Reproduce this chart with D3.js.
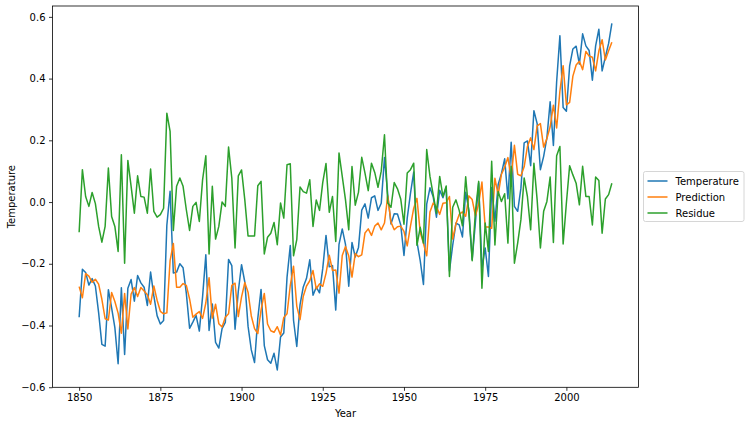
<!DOCTYPE html>
<html>
<head>
<meta charset="utf-8">
<script src="https://cdn.jsdelivr.net/npm/d3@7"></script>
<style>
  html, body { margin: 0; padding: 0; background: #fff; }
  svg { display: block; font-family: "DejaVu Sans", sans-serif; }
</style>
</head>
<body>
<svg id="chart" width="751" height="425"></svg>
<script>
const startYear = 1850;
const seriesNames = ["Temperature", "Prediction", "Residue"];
const xTicks = [1850, 1875, 1900, 1925, 1950, 1975, 2000];
const yTicks = [-0.6, -0.4, -0.2, 0.0, 0.2, 0.4, 0.6];

const temperature = [
-0.373,-0.218,-0.228,-0.269,-0.248,-0.272,-0.358,-0.461,-0.467,-0.284,
-0.343,-0.407,-0.524,-0.278,-0.494,-0.279,-0.251,-0.321,-0.238,-0.262,
-0.276,-0.335,-0.227,-0.304,-0.368,-0.395,-0.384,-0.075,0.035,-0.230,
-0.227,-0.200,-0.213,-0.296,-0.409,-0.389,-0.367,-0.418,-0.307,-0.171,
-0.416,-0.330,-0.455,-0.473,-0.410,-0.390,-0.186,-0.206,-0.412,-0.289,
-0.203,-0.259,-0.402,-0.479,-0.520,-0.377,-0.283,-0.465,-0.511,-0.522,
-0.490,-0.544,-0.437,-0.424,-0.244,-0.141,-0.383,-0.468,-0.333,-0.275,
-0.247,-0.187,-0.302,-0.276,-0.294,-0.215,-0.108,-0.210,-0.206,-0.350,
-0.137,-0.087,-0.137,-0.273,-0.131,-0.178,-0.147,-0.026,-0.006,-0.052,
0.014,0.020,-0.027,-0.004,0.144,0.025,-0.071,-0.038,-0.039,-0.074,
-0.173,-0.052,0.028,0.097,-0.129,-0.190,-0.267,-0.007,0.046,0.017,
-0.049,0.038,0.014,0.048,-0.223,-0.140,-0.068,-0.074,-0.113,0.032,
-0.027,-0.186,-0.065,0.062,-0.214,-0.149,-0.241,0.047,-0.062,0.057,
0.092,0.140,0.011,0.194,-0.014,-0.030,0.045,0.192,0.198,0.118,
0.296,0.254,0.105,0.148,0.208,0.325,0.183,0.390,0.539,0.306,
0.294,0.441,0.496,0.505,0.447,0.545,0.506,0.491,0.395,0.506,
0.560,0.425,0.470,0.514,0.579
];

const prediction = [
-0.274,-0.310,-0.232,-0.240,-0.260,-0.250,-0.266,-0.315,-0.378,-0.382,
-0.293,-0.322,-0.360,-0.425,-0.296,-0.411,-0.298,-0.277,-0.306,-0.277,
-0.288,-0.300,-0.331,-0.272,-0.318,-0.354,-0.362,-0.359,-0.190,-0.134,
-0.276,-0.276,-0.264,-0.270,-0.314,-0.373,-0.363,-0.355,-0.377,-0.327,
-0.245,-0.376,-0.331,-0.394,-0.405,-0.373,-0.362,-0.270,-0.263,-0.371,
-0.307,-0.261,-0.292,-0.369,-0.410,-0.426,-0.350,-0.296,-0.395,-0.417,
-0.422,-0.404,-0.431,-0.374,-0.362,-0.270,-0.208,-0.337,-0.381,-0.305,
-0.272,-0.255,-0.222,-0.281,-0.265,-0.273,-0.231,-0.172,-0.222,-0.220,
-0.295,-0.173,-0.144,-0.175,-0.243,-0.167,-0.177,-0.171,-0.100,-0.087,
-0.108,-0.078,-0.068,-0.090,-0.068,0.020,-0.065,-0.090,-0.080,-0.078,
-0.095,-0.142,-0.078,-0.020,0.012,-0.098,-0.134,-0.174,-0.032,-0.003,
-0.015,-0.040,-0.004,-0.002,0.018,-0.120,-0.070,-0.040,-0.032,-0.046,
0.020,0.008,-0.045,-0.005,0.065,-0.081,-0.081,-0.085,0.077,0.023,
0.090,0.113,0.144,0.078,0.184,0.090,0.085,0.114,0.180,0.208,
0.170,0.247,0.254,0.178,0.206,0.244,0.314,0.240,0.359,0.442,
0.315,0.323,0.408,0.444,0.456,0.429,0.488,0.473,0.469,0.425,
0.490,0.526,0.460,0.490,0.518
];

const residue = [
-0.098,0.105,0.018,-0.014,0.031,-0.005,-0.079,-0.130,-0.079,0.110,
-0.047,-0.079,-0.160,0.153,-0.198,0.135,0.051,-0.036,0.085,0.018,
0.016,-0.036,0.107,-0.030,-0.049,-0.041,-0.020,0.288,0.229,-0.092,
0.051,0.078,0.051,-0.025,-0.092,-0.014,-0.001,-0.063,0.072,0.150,
-0.168,0.051,-0.120,-0.079,0.000,-0.014,0.178,0.078,-0.149,0.085,
0.104,0.007,-0.110,-0.110,-0.110,0.053,0.067,-0.168,-0.114,-0.101,
-0.066,-0.138,-0.003,-0.052,0.121,0.124,-0.174,-0.122,0.049,0.034,
0.029,0.072,-0.079,0.007,-0.027,0.064,0.125,-0.033,0.018,-0.128,
0.159,0.083,0.007,-0.090,0.115,-0.010,0.032,0.145,0.094,0.037,
0.126,0.096,0.048,0.100,0.218,-0.003,-0.017,0.063,0.043,0.010,
-0.072,0.094,0.105,0.126,-0.140,-0.082,-0.133,0.170,0.083,0.024,
-0.036,0.083,0.018,0.052,-0.241,-0.017,0.007,-0.027,-0.077,0.082,
-0.040,-0.190,-0.030,0.067,-0.279,-0.068,-0.160,0.132,-0.139,0.034,
0.002,0.027,-0.133,0.116,-0.198,-0.133,-0.057,0.078,0.018,-0.090,
0.126,0.007,-0.149,-0.030,0.002,0.081,-0.131,0.150,0.180,-0.136,
-0.003,0.118,0.088,0.061,-0.009,0.116,0.018,0.018,-0.074,0.081,
0.070,-0.101,0.010,0.024,0.061
];

const colors = ["#1f77b4", "#ff7f0e", "#2ca02c"];
const allSeries = [temperature, prediction, residue];
const years = temperature.map((_, i) => startYear + i);

const svg = d3.select("#chart");
const L = 52.5, R = 638.5, T = 6, B = 387.3;

const x = d3.scaleLinear().domain([1841.8, 2022.2]).range([L, R]);
const y = d3.scaleLinear().domain([-0.6002, 0.6352]).range([B, T]);

const plot = svg.append("g");
const line = d3.line().x((d, i) => x(years[i])).y(d => y(d));

allSeries.forEach((s, k) => {
  plot.append("path")
    .datum(s)
    .attr("d", line)
    .attr("fill", "none")
    .attr("stroke", colors[k])
    .attr("stroke-width", 1.5)
    .attr("stroke-linejoin", "round")
    .attr("stroke-linecap", "butt");
});

// Axes
const fmtY = d => (d < 0 ? "\u2212" : "") + Math.abs(d).toFixed(1);
const xAxis = d3.axisBottom(x).tickValues(xTicks).tickSize(3.5).tickPadding(3.5).tickFormat(d3.format("d"));
const yAxis = d3.axisLeft(y).tickValues(yTicks).tickSize(3.5).tickPadding(3.5).tickFormat(fmtY);

const gx = svg.append("g").attr("transform", `translate(0,${B})`).call(xAxis);
const gy = svg.append("g").attr("transform", `translate(${L},0)`).call(yAxis);
[gx, gy].forEach(g => {
  g.select(".domain").remove();
  g.selectAll("line").attr("stroke", "#000").attr("stroke-width", 0.8);
  g.selectAll("text").attr("fill", "#000").style("font-size", "10px").style("font-family", "DejaVu Sans");
});

// Spines
svg.append("rect")
  .attr("x", L).attr("y", T).attr("width", R - L).attr("height", B - T)
  .attr("fill", "none").attr("stroke", "#000").attr("stroke-width", 0.8);

// Axis labels
svg.append("text").attr("x", (L + R) / 2).attr("y", 417)
  .attr("text-anchor", "middle").style("font-size", "10px").text("Year");
svg.append("text")
  .attr("transform", `translate(15,${(T + B) / 2}) rotate(-90)`)
  .attr("text-anchor", "middle").style("font-size", "10px").text("Temperature");

// Legend
const lg = svg.append("g");
lg.append("rect").attr("x", 643.5).attr("y", 171.5).attr("width", 100.5).attr("height", 50)
  .attr("rx", 2).attr("fill", "#fff").attr("fill-opacity", 0.8)
  .attr("stroke", "#cccccc").attr("stroke-width", 0.8);
seriesNames.forEach((name, k) => {
  const cy = 181 + k * 16;
  lg.append("line").attr("x1", 647.5).attr("x2", 667.5).attr("y1", cy).attr("y2", cy)
    .attr("stroke", colors[k]).attr("stroke-width", 1.5);
  lg.append("text").attr("x", 675.5).attr("y", cy + 3.6)
    .style("font-size", "10px").attr("fill", "#000").text(name);
});
</script>
</body>
</html>
